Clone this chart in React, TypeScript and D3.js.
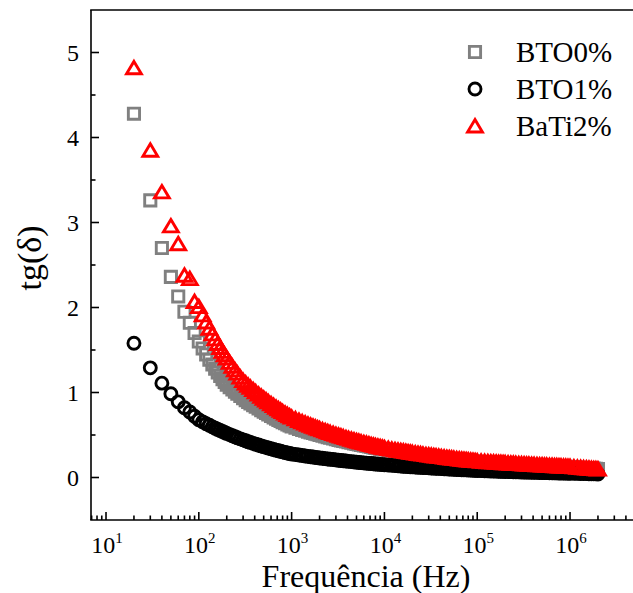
import React from "react";
import * as d3 from "d3";

// ---- data ----
const FREQ_LOW = [20, 30, 40, 50, 60, 70, 80, 90];
const DECADE_START = [1e2, 1e3, 1e4, 1e5];
const DECADE_STEPS = [1, 1.1, 1.2, 1.3, 1.4, 1.5, 1.6, 1.7, 1.8, 1.9, 2, 2.15, 2.3, 2.45, 2.6, 2.8, 3, 3.2, 3.4, 3.6, 3.85, 4.1, 4.4, 4.7, 5, 5.3, 5.6, 6, 6.4, 6.8, 7.2, 7.6, 8, 8.5, 9, 9.5];
const TAIL_START = 1e6;
const TAIL_STEPS = [1, 1.1, 1.2, 1.3, 1.4, 1.5, 1.6, 1.7, 1.8, 1.9, 2];

const FREQUENCY: number[] = [
  ...FREQ_LOW,
  ...DECADE_START.flatMap((d) => DECADE_STEPS.map((m) => d * m)),
  ...TAIL_STEPS.map((m) => TAIL_START * m),
];

const BTO0 = [
  4.28, 3.26, 2.70, 2.36, 2.13, 1.95, 1.82, 1.70,
  1.600, 1.518, 1.447, 1.385, 1.330, 1.280, 1.236, 1.195, 1.157, 1.124, 1.093, 1.062, 1.035, 1.009, 0.986, 0.958, 0.932, 0.910, 0.890, 0.872, 0.851, 0.832, 0.811, 0.792, 0.774, 0.758, 0.743, 0.724, 0.707, 0.692, 0.678, 0.664, 0.652, 0.638, 0.625, 0.613,
  0.600, 0.585, 0.572, 0.560, 0.550, 0.540, 0.531, 0.523, 0.515, 0.508, 0.501, 0.492, 0.483, 0.475, 0.468, 0.459, 0.451, 0.443, 0.436, 0.430, 0.423, 0.416, 0.408, 0.401, 0.395, 0.389, 0.383, 0.376, 0.370, 0.364, 0.359, 0.354, 0.349, 0.344, 0.339, 0.334,
  0.330, 0.322, 0.315, 0.309, 0.303, 0.298, 0.293, 0.288, 0.284, 0.280, 0.277, 0.272, 0.267, 0.263, 0.259, 0.254, 0.250, 0.246, 0.242, 0.238, 0.234, 0.231, 0.227, 0.223, 0.219, 0.216, 0.213, 0.209, 0.206, 0.203, 0.200, 0.197, 0.195, 0.192, 0.189, 0.186,
  0.185, 0.182, 0.179, 0.177, 0.174, 0.172, 0.170, 0.169, 0.167, 0.165, 0.164, 0.162, 0.160, 0.158, 0.156, 0.154, 0.152, 0.151, 0.149, 0.148, 0.146, 0.144, 0.142, 0.141, 0.139, 0.138, 0.137, 0.135, 0.133, 0.132, 0.131, 0.129, 0.128, 0.127, 0.126, 0.124,
  0.123, 0.120, 0.117, 0.115, 0.112, 0.110, 0.108, 0.106, 0.104, 0.102, 0.100,
];

const BTO1 = [
  1.58, 1.29, 1.11, 0.985, 0.89, 0.82, 0.77, 0.72,
  0.680, 0.655, 0.633, 0.614, 0.596, 0.581, 0.566, 0.553, 0.541, 0.529, 0.519, 0.505, 0.492, 0.479, 0.468, 0.455, 0.443, 0.432, 0.422, 0.413, 0.402, 0.392, 0.382, 0.372, 0.363, 0.355, 0.347, 0.338, 0.330, 0.322, 0.315, 0.308, 0.302, 0.295, 0.289, 0.283,
  0.277, 0.270, 0.264, 0.258, 0.253, 0.249, 0.244, 0.241, 0.237, 0.234, 0.230, 0.226, 0.222, 0.218, 0.215, 0.211, 0.207, 0.203, 0.200, 0.197, 0.194, 0.190, 0.187, 0.184, 0.181, 0.178, 0.175, 0.172, 0.169, 0.166, 0.164, 0.161, 0.159, 0.157, 0.154, 0.152,
  0.150, 0.146, 0.143, 0.140, 0.138, 0.135, 0.133, 0.131, 0.129, 0.127, 0.126, 0.124, 0.121, 0.120, 0.118, 0.116, 0.114, 0.112, 0.110, 0.108, 0.107, 0.105, 0.103, 0.101, 0.100, 0.098, 0.097, 0.095, 0.094, 0.092, 0.091, 0.090, 0.088, 0.087, 0.086, 0.085,
  0.083, 0.081, 0.080, 0.078, 0.077, 0.076, 0.075, 0.074, 0.073, 0.072, 0.071, 0.070, 0.069, 0.068, 0.067, 0.066, 0.065, 0.064, 0.063, 0.063, 0.062, 0.061, 0.060, 0.059, 0.058, 0.058, 0.057, 0.056, 0.055, 0.054, 0.054, 0.053, 0.053, 0.052, 0.051, 0.051,
  0.050, 0.049, 0.048, 0.047, 0.047, 0.046, 0.045, 0.044, 0.044, 0.043, 0.042,
];

const BATI2 = [
  4.82, 3.85, 3.36, 2.96, 2.75, 2.38, 2.34, 2.07,
  2.010, 1.913, 1.830, 1.756, 1.690, 1.631, 1.577, 1.529, 1.484, 1.444, 1.406, 1.354, 1.308, 1.266, 1.228, 1.181, 1.140, 1.111, 1.085, 1.061, 1.034, 1.008, 0.981, 0.956, 0.933, 0.912, 0.892, 0.868, 0.846, 0.826, 0.808, 0.791, 0.775, 0.757, 0.740, 0.725,
  0.710, 0.690, 0.671, 0.655, 0.640, 0.627, 0.615, 0.603, 0.593, 0.583, 0.574, 0.561, 0.550, 0.539, 0.529, 0.518, 0.507, 0.497, 0.488, 0.479, 0.469, 0.460, 0.450, 0.441, 0.433, 0.426, 0.418, 0.410, 0.402, 0.394, 0.387, 0.381, 0.375, 0.368, 0.362, 0.356,
  0.350, 0.342, 0.334, 0.327, 0.321, 0.316, 0.311, 0.306, 0.301, 0.297, 0.293, 0.288, 0.283, 0.279, 0.275, 0.269, 0.265, 0.261, 0.256, 0.253, 0.249, 0.245, 0.240, 0.236, 0.233, 0.229, 0.226, 0.222, 0.218, 0.215, 0.212, 0.209, 0.206, 0.203, 0.200, 0.198,
  0.195, 0.192, 0.189, 0.186, 0.184, 0.182, 0.180, 0.178, 0.176, 0.174, 0.173, 0.170, 0.168, 0.167, 0.165, 0.163, 0.161, 0.159, 0.157, 0.156, 0.154, 0.152, 0.150, 0.148, 0.147, 0.145, 0.144, 0.142, 0.141, 0.139, 0.138, 0.136, 0.135, 0.134, 0.132, 0.131,
  0.130, 0.125, 0.121, 0.118, 0.114, 0.112, 0.109, 0.106, 0.104, 0.102, 0.100,
];

const SERIES_NAMES = ["BTO0%", "BTO1%", "BaTi2%"];
const Y_TICKS = [0, 1, 2, 3, 4, 5];
const Y_MINOR = [0.5, 1.5, 2.5, 3.5, 4.5];
const X_TICK_EXP = [1, 2, 3, 4, 5, 6];
const X_LABEL = "Frequência (Hz)";
const Y_LABEL = "tg(δ)";

// ---- layout ----
const W = 633;
const H = 593;
const LEFT = 91;
const RIGHT = 633;
const TOP = 10;
const BOTTOM = 520;
const FONT = "'Liberation Serif', 'Times New Roman', serif";

const x = d3.scaleLog().domain([6.89, 4.77e6]).range([LEFT, RIGHT]);
const y = d3.scaleLinear().domain([-0.5, 5.5]).range([BOTTOM, TOP]);

const SQUARE = "M-5.6,-5.6H5.6V5.6H-5.6Z";
const TRIANGLE = "M0,-6.4L7.4,6.0L-7.4,6.0Z";
const STROKE_W = 2.9;

const STYLES = [
  { color: "#808080", shape: "square" },
  { color: "#000000", shape: "circle" },
  { color: "#ff0000", shape: "triangle" },
];

function Marker({ shape, color, cx, cy }: { shape: string; color: string; cx: number; cy: number }) {
  const common = { fill: "none", stroke: color, strokeWidth: STROKE_W };
  if (shape === "circle") return <circle cx={cx} cy={cy} r={6.0} {...common} />;
  return (
    <path
      d={shape === "square" ? SQUARE : TRIANGLE}
      transform={`translate(${cx},${cy})`}
      {...common}
      strokeLinejoin="miter"
    />
  );
}

export default function App() {
  const seriesValues = [BTO0, BTO1, BATI2];
  const allTicks = x.ticks();
  const minorX = allTicks.filter((t) => Math.abs(Math.log10(t) - Math.round(Math.log10(t))) > 1e-6);

  return (
    <svg width={W} height={H} style={{ position: "absolute", left: 0, top: 0, background: "#fff" }} fontFamily={FONT}>
      <rect x={0} y={0} width={W} height={H} fill="#fff" />
      <defs>
        <clipPath id="plot">
          <rect x={LEFT} y={TOP} width={RIGHT - LEFT} height={BOTTOM - TOP} />
        </clipPath>
      </defs>

      {/* markers */}
      <g clipPath="url(#plot)">
        {seriesValues.map((vals, si) => (
          <g key={si}>
            {vals.map((v, i) => (
              <Marker key={i} shape={STYLES[si].shape} color={STYLES[si].color} cx={x(FREQUENCY[i])} cy={y(v)} />
            ))}
          </g>
        ))}
      </g>

      {/* frame */}
      <g stroke="#000" strokeWidth={1.6} fill="none">
        <line x1={LEFT} y1={TOP} x2={LEFT} y2={BOTTOM} />
        <line x1={LEFT - 0.8} y1={BOTTOM} x2={RIGHT} y2={BOTTOM} />
        <line x1={LEFT - 0.8} y1={TOP} x2={RIGHT} y2={TOP} />
      </g>

      {/* y ticks */}
      <g stroke="#000" strokeWidth={1.6}>
        {Y_TICKS.map((t) => (
          <line key={"yM" + t} x1={LEFT} x2={LEFT + 8} y1={y(t)} y2={y(t)} />
        ))}
        {Y_MINOR.map((t) => (
          <line key={"ym" + t} x1={LEFT} x2={LEFT + 4.5} y1={y(t)} y2={y(t)} />
        ))}
      </g>
      <g fontSize={24} textAnchor="end" fill="#000">
        {Y_TICKS.map((t) => (
          <text key={"yl" + t} x={79} y={y(t) + 8}>
            {t}
          </text>
        ))}
      </g>

      {/* x ticks */}
      <g stroke="#000" strokeWidth={1.6}>
        {X_TICK_EXP.map((e) => (
          <line key={"xM" + e} x1={x(Math.pow(10, e))} x2={x(Math.pow(10, e))} y1={BOTTOM} y2={BOTTOM - 8} />
        ))}
        {minorX.map((t) => (
          <line key={"xm" + t} x1={x(t)} x2={x(t)} y1={BOTTOM} y2={BOTTOM - 4.5} />
        ))}
      </g>
      <g fontSize={24} textAnchor="middle" fill="#000">
        {X_TICK_EXP.map((e) => (
          <text key={"xl" + e} x={x(Math.pow(10, e)) + 1} y={552.5}>
            10
            <tspan fontSize={15} dy={-10}>
              {e}
            </tspan>
          </text>
        ))}
      </g>

      {/* axis titles */}
      <text x={366} y={586.5} fontSize={32} textAnchor="middle" fill="#000">
        {X_LABEL}
      </text>
      <text transform="translate(41,258) rotate(-90)" fontSize={34} textAnchor="middle" fill="#000">
        {Y_LABEL}
      </text>

      {/* legend */}
      {SERIES_NAMES.map((name, i) => {
        const ly = 52 + i * 37;
        return (
          <g key={name}>
            <Marker shape={STYLES[i].shape} color={STYLES[i].color} cx={475} cy={ly} />
            <text x={516} y={ly + 9.5} fontSize={29} fill="#000">
              {name}
            </text>
          </g>
        );
      })}
    </svg>
  );
}
